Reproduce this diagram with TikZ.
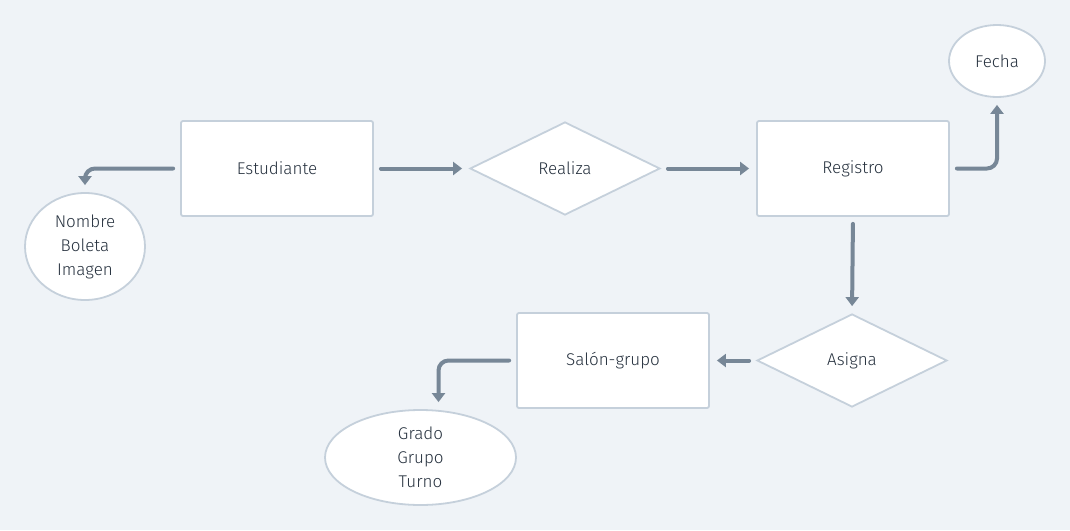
\documentclass[tikz,border=0pt]{standalone}
\usepackage{fontspec}
\setmainfont{Fira Sans}[UprightFont=* Light]
\usetikzlibrary{shapes.geometric,arrows.meta}
\definecolor{bg}{HTML}{EFF3F7}
\definecolor{bord}{HTML}{C5D0DB}
\definecolor{arrc}{HTML}{778797}
\definecolor{txt}{HTML}{26313E}
\tikzset{
  base/.style={draw=bord, line width=1.8pt, fill=white, text=txt, font=\fontsize{17}{24}\selectfont, align=center, inner sep=0pt},
  box/.style={base, rectangle, rounded corners=2pt, minimum width=192pt, minimum height=95pt},
  dia/.style={base, diamond, aspect=2.04, minimum width=190pt, minimum height=93pt},
  ell/.style={base, ellipse},
  arr/.style={draw=arrc, line width=4pt, line cap=round, rounded corners=10pt, -{Triangle[length=9pt,width=13pt]}, shorten >=7pt, shorten <=7pt}
}
\begin{document}
\begin{tikzpicture}[x=1pt,y=-1pt]
\useasboundingbox[fill=bg] (0,0) rectangle (1070,530);
\node[box] (est) at (277,168.5) {Estudiante};
\node[dia] (rea) at (565,168.5) {Realiza};
\node[box] (reg) at (853,168.5) {Registro};
\node[ell, minimum width=96pt, minimum height=72pt] (fec) at (997,61) {Fecha};
\node[ell, minimum width=120pt, minimum height=107pt] (nom) at (85,246.5) {Nombre\\Boleta\\Imagen};
\node[dia] (asi) at (852,360.5) {Asigna};
\node[box] (sal) at (613,360.5) {Salón-grupo};
\node[ell, minimum width=191pt, minimum height=95pt] (gra) at (420.5,457.5) {Grado\\Grupo\\Turno};
\draw[arr] (est.west) -| (nom.north);
\draw[arr] (est.east) -- (rea.west);
\draw[arr] (rea.east) -- (reg.west);
\draw[arr] (reg.east) -| (fec.south);
\draw[arr] (reg.south) -- (asi.north);
\draw[arr] (asi.west) -- (sal.east);
\draw[arr] (sal.west) -| ([xshift=18pt]gra.north);
\end{tikzpicture}
\end{document}
